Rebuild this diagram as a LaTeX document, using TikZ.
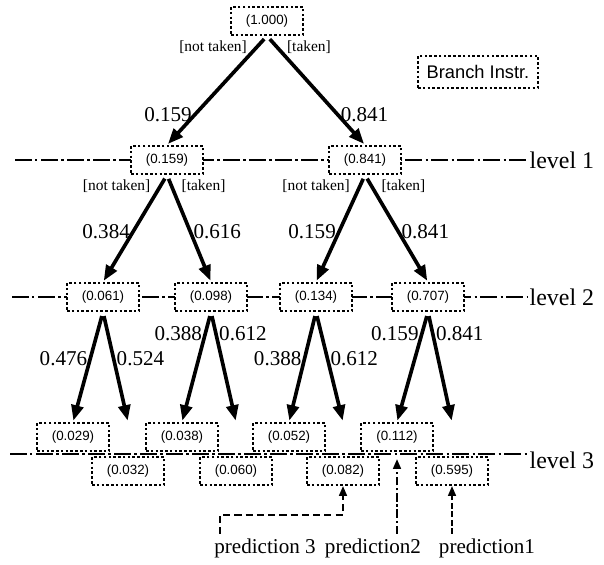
\documentclass[tikz,border=0pt]{standalone}
\usepackage{fontspec}
\setmainfont{Liberation Serif}
\setsansfont{Liberation Sans}
\usetikzlibrary{arrows.meta,backgrounds}

\tikzset{
  pbox/.style={draw,line width=1.4pt,dash pattern=on 1.8pt off 1.6pt,fill=white,
    minimum width=1.8cm,minimum height=0.7cm,inner sep=1pt,
    font=\sffamily\fontsize{9.5}{11}\selectfont},
  tarr/.style={-{Triangle[length=11pt,width=8.5pt]},line width=2.6pt,shorten <=3pt,shorten >=1pt},
  num/.style={inner sep=1pt,font=\fontsize{15}{17}\selectfont},
  cond/.style={inner sep=0pt,font=\fontsize{11}{13}\selectfont},
  lvl/.style={line width=1.1pt,dash pattern=on 12pt off 2.5pt on 1.5pt off 2.5pt},
  lvltext/.style={anchor=west,inner sep=1pt,font=\fontsize{17}{20}\selectfont},
  predtext/.style={inner sep=1pt,font=\fontsize{15}{18}\selectfont},
  predarr/.style={-{Triangle[length=7pt,width=5.5pt]},line width=1.5pt}
}

\begin{document}
\begin{tikzpicture}
\useasboundingbox (0,0) rectangle (15.1,14.1);

\node[pbox] (root) at (6.675,13.575) {(1.000)};
\node[pbox,minimum width=3cm,minimum height=0.8cm,font=\sffamily\fontsize{13}{15}\selectfont] (instr) at (11.95,12.3) {Branch Instr.};

\node[pbox] (l1a) at (4.175,10.1) {(0.159)};
\node[pbox] (l1b) at (9.125,10.1) {(0.841)};

\node[pbox] (l2a) at (2.575,6.675) {(0.061)};
\node[pbox] (l2b) at (5.275,6.675) {(0.098)};
\node[pbox] (l2c) at (7.9,6.675) {(0.134)};
\node[pbox] (l2d) at (10.7,6.675) {(0.707)};

\node[pbox] (l3au) at (1.825,3.175) {(0.029)};
\node[pbox] (l3bu) at (4.55,3.175) {(0.038)};
\node[pbox] (l3cu) at (7.225,3.175) {(0.052)};
\node[pbox] (l3du) at (9.925,3.175) {(0.112)};
\node[pbox] (l3al) at (3.2,2.325) {(0.032)};
\node[pbox] (l3bl) at (5.9,2.325) {(0.060)};
\node[pbox] (l3cl) at (8.575,2.325) {(0.082)};
\node[pbox] (l3dl) at (11.3,2.325) {(0.595)};

\node[lvltext] (lev1) at (13.2,10.1) {level 1};
\node[lvltext] (lev2) at (13.2,6.675) {level 2};
\node[lvltext] (lev3) at (13.2,2.6) {level 3};

\coordinate (s1) at (0.375,10.1);
\coordinate (s2) at (0.3,6.675);
\coordinate (s3) at (0.25,2.75);
\begin{scope}[on background layer]
\draw[lvl] (s1) -- (lev1.west);
\draw[lvl] (s2) -- (lev2.west);
\draw[lvl] (s3) -- (s3 -| lev3.west);
\end{scope}

\draw[tarr] (root.south) -- node[cond,pos=0.1,anchor=east,xshift=-6pt]{[not taken]} node[num,pos=0.72,anchor=east]{0.159} (l1a.north);
\draw[tarr] (root.south) -- node[cond,pos=0.1,anchor=west,xshift=6pt]{[taken]} node[num,pos=0.72,anchor=west]{0.841} (l1b.north);

\draw[tarr] (l1a.south) -- node[cond,pos=0.1,anchor=east,xshift=-6pt]{[not taken]} node[num,pos=0.53,anchor=east]{0.384} (l2a.north);
\draw[tarr] (l1a.south) -- node[cond,pos=0.1,anchor=west,xshift=6pt]{[taken]} node[num,pos=0.53,anchor=west]{0.616} (l2b.north);
\draw[tarr] (l1b.south) -- node[cond,pos=0.1,anchor=east,xshift=-6pt]{[not taken]} node[num,pos=0.53,anchor=east]{0.159} (l2c.north);
\draw[tarr] (l1b.south) -- node[cond,pos=0.1,anchor=west,xshift=6pt]{[taken]} node[num,pos=0.53,anchor=west]{0.841} (l2d.north);

\draw[tarr] (l2a.south) -- node[num,pos=0.42,anchor=east]{0.476} (l3au.north);
\draw[tarr] (l2a.south) -- node[num,pos=0.42,anchor=west]{0.524} (l3al |- l3au.north);
\draw[tarr] (l2b.south) -- node[num,pos=0.2,anchor=east]{0.388} (l3bu.north);
\draw[tarr] (l2b.south) -- node[num,pos=0.2,anchor=west]{0.612} (l3bl |- l3bu.north);
\draw[tarr] (l2c.south) -- node[num,pos=0.42,anchor=east]{0.388} (l3cu.north);
\draw[tarr] (l2c.south) -- node[num,pos=0.42,anchor=west]{0.612} (l3cl |- l3cu.north);
\draw[tarr] (l2d.south) -- node[num,pos=0.2,anchor=east]{0.159} (l3du.north);
\draw[tarr] (l2d.south) -- node[num,pos=0.2,anchor=west]{0.841} (l3dl |- l3du.north);

\node[predtext] (pred3) at (6.625,0.4) {prediction 3};
\node[predtext] (pred2) at (9.325,0.4) {prediction2};
\node[predtext] (pred1) at (12.175,0.4) {prediction1};

\coordinate (bend3) at (8.575,1.225);
\draw[predarr,dash pattern=on 5pt off 3pt] ([xshift=5pt,yshift=2pt]pred3.north west) |- (bend3) -- (l3cl.south);
\draw[predarr,dash pattern=on 6pt off 2pt on 1.5pt off 2pt,shorten >=5pt] ([yshift=2pt]pred2.north -| l3du.south) -- (l3du.south);
\draw[predarr,dash pattern=on 4pt off 2pt] ([yshift=2pt]pred1.north -| l3dl.south) -- (l3dl.south);
\end{tikzpicture}
\end{document}
